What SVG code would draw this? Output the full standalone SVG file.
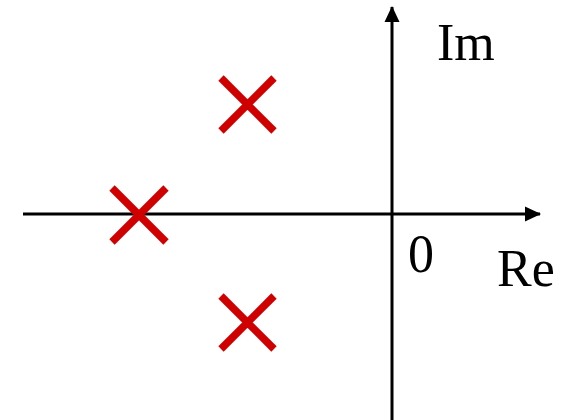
<svg xmlns="http://www.w3.org/2000/svg" width="568" height="420" viewBox="0 0 568 420">
<style>
.axis{stroke:#000;stroke-width:3;fill:none}
.pole{stroke:#D10000;stroke-width:7.5;fill:none;stroke-linecap:butt}
.lbl{font-family:"Liberation Serif","Times New Roman",serif;font-size:52px;fill:#000}
</style>
<defs>
<marker id="arr" viewBox="0 0 16 16" refX="15" refY="8" markerWidth="16" markerHeight="16" markerUnits="userSpaceOnUse" orient="auto">
<path d="M0,0.5 L16,8 L0,15.5 Z" fill="#000"/>
</marker>
</defs>
<rect width="568" height="420" fill="#fff"/>
<g id="connectors">
<line class="axis" x1="23" y1="214" x2="540" y2="214" marker-end="url(#arr)"/>
<line class="axis" x1="392" y1="420" x2="392" y2="7" marker-end="url(#arr)"/>
</g>
<g id="pole1"><path class="pole" d="M112,188 L166,242 M166,188 L112,242"/></g>
<g id="pole2"><path class="pole" d="M221,78 L274,131 M274,78 L221,131"/></g>
<g id="pole3"><path class="pole" d="M221,296 L274,349 M274,296 L221,349"/></g>
<g id="labels">
<text class="lbl" x="437" y="60">Im</text>
<text class="lbl" x="408" y="272" transform="translate(408 272) scale(1 1.05) translate(-408 -272)">0</text>
<text class="lbl" x="497" y="286">Re</text>
</g>
</svg>
